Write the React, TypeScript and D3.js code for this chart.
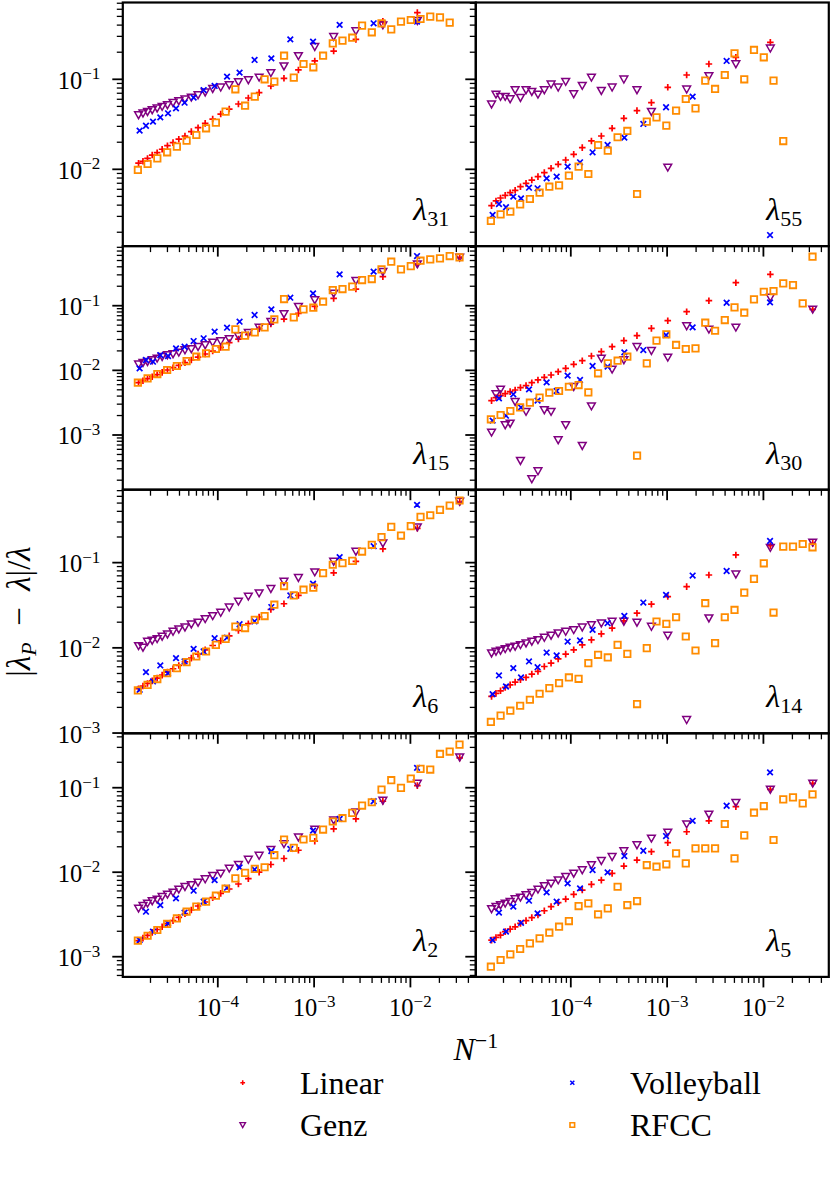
import React from 'react';
import * as d3 from 'd3';

// ---------- x grids (N^-1) ----------
const xLin = [1.503e-5, 1.671e-5, 1.862e-5, 2.084e-5, 2.344e-5, 2.642e-5, 3.0e-5, 3.428e-5, 3.936e-5, 4.56e-5, 5.309e-5, 6.237e-5, 7.396e-5, 8.85e-5, 1.072e-4, 1.315e-4, 1.637e-4, 2.075e-4, 2.685e-4, 3.556e-4, 4.864e-4, 6.87e-4, 1.016e-3, 1.596e-3, 2.716e-3, 5.176e-3, 1.18e-2, 3.25e-2];
const xVol = [1.542e-5, 1.795e-5, 2.123e-5, 2.529e-5, 3.041e-5, 3.681e-5, 4.519e-5, 5.61e-5, 7.129e-5, 9.268e-5, 1.247e-4, 1.683e-4, 2.41e-4, 3.597e-4, 5.662e-4, 9.75e-4, 1.841e-3, 4.15e-3, 1.172e-2];
const xRF = [1.479e-5, 1.866e-5, 2.355e-5, 2.979e-5, 3.758e-5, 4.742e-5, 5.984e-5, 7.551e-5, 9.55e-5, 1.205e-4, 1.521e-4, 1.919e-4, 2.421e-4, 3.062e-4, 3.864e-4, 4.875e-4, 6.152e-4, 7.762e-4, 9.817e-4, 1.239e-3, 1.563e-3, 1.972e-3, 2.489e-3, 3.148e-3, 3.972e-3, 5.012e-3, 6.324e-3, 7.98e-3, 1.009e-2, 1.274e-2, 1.607e-2, 2.028e-2, 2.559e-2, 3.236e-2];

// ---------- lambda_31 ----------
const lin31 = [0.0117, 0.0123, 0.0132, 0.0144, 0.0153, 0.0167, 0.0183, 0.0198, 0.0216, 0.0234, 0.0262, 0.029, 0.0324, 0.0362, 0.0411, 0.0467, 0.0532, 0.062, 0.0711, 0.0843, 0.1026, 0.127, 0.16, 0.206, 0.278, 0.44, 0.55];
const genz31 = [0.0401, 0.0419, 0.0437, 0.0456, 0.0477, 0.0497, 0.0518, 0.055, 0.0574, 0.06, 0.063, 0.067, 0.0718, 0.0787, 0.0815, 0.0865, 0.0933, 0.0982, 0.105, 0.118, 0.14, 0.182, 0.23, 0.297, 0.344, 0.4, 0.447];
const vol31 = [0.0269, 0.0305, 0.0339, 0.0378, 0.0419, 0.0476, 0.055, 0.0626, 0.076, 0.0844, 0.107, 0.1186, 0.164, 0.171, 0.278, 0.262, 0.402, 0.419, 0.437];
const rf31 = [0.00984, 0.01146, 0.01324, 0.01545, 0.01786, 0.02084, 0.02405, 0.02855, 0.03302, 0.04375, 0.07745, 0.0509, 0.0642, 0.1, 0.0942, 0.183, 0.1044, 0.148, 0.136, 0.183, 0.251, 0.269, 0.29, 0.395, 0.333, 0.419, 0.359, 0.437, 0.456, 0.468, 0.497, 0.488, 0.426];

// ---------- lambda_55 ----------
const lin55 = [0.00395, 0.00445, 0.0048, 0.00514, 0.0055, 0.00585, 0.00641, 0.00698, 0.0076, 0.0083, 0.00919, 0.01026, 0.01137, 0.0127, 0.01468, 0.01741, 0.02065, 0.02344, 0.02855, 0.0369, 0.0449, 0.0551, 0.0815, 0.1117, 0.148, 0.1755, 0.2577];
const genz55 = [0.0528, 0.0681, 0.0642, 0.0642, 0.0604, 0.0761, 0.0625, 0.0761, 0.0729, 0.0681, 0.0761, 0.088, 0.0815, 0.0942, 0.0687, 0.0851, 0.1052, 0.0748, 0.0815, 0.1, 0.0761, 0.0437, 0.01052, 0.0774, 0.1089, 0.148, 0.221];
const vol55 = [0.00311, 0.00412, 0.00379, 0.00497, 0.00476, 0.00625, 0.00615, 0.00794, 0.0083, 0.01071, 0.01197, 0.01545, 0.01862, 0.02248, 0.0319, 0.0489, 0.0642, 0.16, 0.00186];
const rf55 = [0.00267, 0.00316, 0.00339, 0.00408, 0.00468, 0.0055, 0.00641, 0.00664, 0.0085, 0.01071, 0.00887, 0.01862, 0.0161, 0.0227, 0.02667, 0.00532, 0.0339, 0.0378, 0.0306, 0.0449, 0.0604, 0.0476, 0.0967, 0.0781, 0.1117, 0.1945, 0.1, 0.212, 0.1755, 0.0967, 0.0206];

// ---------- lambda_15 ----------
const lin15 = [0.00644, 0.00692, 0.00743, 0.00798, 0.00857, 0.00931, 0.01012, 0.01099, 0.01194, 0.01314, 0.01445, 0.01607, 0.0179, 0.0199, 0.0227, 0.0268, 0.0305, 0.0356, 0.0441, 0.052, 0.0622, 0.076, 0.0977, 0.13, 0.181, 0.281, 0.44, 0.56];
const genz15 = [0.0124, 0.01314, 0.0136, 0.01445, 0.01534, 0.01627, 0.01726, 0.0179, 0.01899, 0.0206, 0.0214, 0.0232, 0.0247, 0.0271, 0.0284, 0.0305, 0.034, 0.0382, 0.0462, 0.0566, 0.0744, 0.0966, 0.1225, 0.155, 0.244, 0.336, 0.44, 0.56];
const vol15 = [0.01074, 0.01445, 0.0136, 0.01726, 0.01667, 0.0219, 0.0232, 0.0284, 0.0313, 0.0396, 0.0457, 0.0566, 0.0718, 0.0878, 0.133, 0.155, 0.305, 0.336, 0.586];
const rf15 = [0.00644, 0.00751, 0.00877, 0.01012, 0.01167, 0.01393, 0.01627, 0.01832, 0.0214, 0.0232, 0.0431, 0.0344, 0.0387, 0.0462, 0.0615, 0.1268, 0.0661, 0.0878, 0.0931, 0.1153, 0.1746, 0.181, 0.197, 0.2494, 0.2584, 0.365, 0.479, 0.365, 0.41, 0.497, 0.52, 0.539, 0.586, 0.559];

// ---------- lambda_30 ----------
const lin30 = [0.0034, 0.00378, 0.00406, 0.00436, 0.00468, 0.00497, 0.0054, 0.0058, 0.00644, 0.0071, 0.0078, 0.00848, 0.00953, 0.01074, 0.0124, 0.0141, 0.01667, 0.01945, 0.0232, 0.0288, 0.0344, 0.0446, 0.0586, 0.0807, 0.1194, 0.227, 0.305, 0.088];
const genz30 = [0.0011, 0.00431, 0.00508, 0.00143, 0.00151, 0.00327, 0.000401, 0.0023, 0.000209, 0.000277, 0.00244, 0.0023, 0.000837, 0.00143, 0.00558, 0.000684, 0.0028, 0.01534, 0.01036, 0.01445, 0.0232, 0.0201, 0.0159, 0.0485, 0.0431, 0.0462, 0.1345, 0.0878];
const vol30 = [0.00167, 0.00369, 0.00199, 0.00426, 0.00268, 0.00508, 0.0034, 0.00652, 0.00479, 0.00828, 0.0071, 0.01167, 0.0114, 0.019, 0.0206, 0.0351, 0.0462, 0.111, 0.1127];
const rf30 = [0.00175, 0.00204, 0.00235, 0.00268, 0.00316, 0.00378, 0.00451, 0.00479, 0.00558, 0.00593, 0.00457, 0.009, 0.01283, 0.0141, 0.01627, 0.000479, 0.01283, 0.0288, 0.036, 0.0247, 0.0214, 0.0219, 0.0546, 0.041, 0.06, 0.0942, 0.078, 0.1253, 0.1644, 0.1685, 0.2214, 0.2088, 0.1086, 0.573];

// ---------- lambda_6 ----------
const lin6 = [0.00331, 0.00356, 0.00382, 0.0041, 0.00441, 0.00479, 0.00519, 0.00568, 0.00621, 0.00686, 0.00757, 0.00843, 0.00948, 0.01065, 0.01208, 0.01383, 0.01597, 0.0192, 0.023, 0.0282, 0.0329, 0.0412, 0.054, 0.076, 0.1032, 0.145, 0.253, 0.512];
const genz6 = [0.01054, 0.01009, 0.01186, 0.01219, 0.01274, 0.01357, 0.01445, 0.01553, 0.01655, 0.01746, 0.01892, 0.01981, 0.02187, 0.02371, 0.02594, 0.02997, 0.0351, 0.0402, 0.0439, 0.0494, 0.0601, 0.0664, 0.0774, 0.1032, 0.135, 0.169, 0.261, 0.521];
const vol6 = [0.00322, 0.00519, 0.00403, 0.00621, 0.00505, 0.00757, 0.00692, 0.00973, 0.00906, 0.01297, 0.0132, 0.01892, 0.0205, 0.0301, 0.0412, 0.0565, 0.116, 0.156, 0.476];
const rf6 = [0.00316, 0.00368, 0.0043, 0.00505, 0.00578, 0.00679, 0.00791, 0.00906, 0.01084, 0.01274, 0.01778, 0.01706, 0.02137, 0.0236, 0.0321, 0.0531, 0.0412, 0.0481, 0.0508, 0.0753, 0.0944, 0.0987, 0.105, 0.135, 0.162, 0.199, 0.263, 0.208, 0.268, 0.344, 0.36, 0.416, 0.468, 0.536];

// ---------- lambda_14 ----------
const lin14 = [0.00269, 0.00292, 0.00313, 0.00343, 0.00368, 0.00396, 0.00422, 0.00449, 0.00491, 0.00528, 0.00604, 0.00661, 0.00743, 0.00843, 0.00948, 0.01084, 0.01241, 0.01459, 0.017, 0.0207, 0.0255, 0.0325, 0.04, 0.0523, 0.0716, 0.123, 0.158, 0.1685];
const genz14 = [0.00866, 0.00906, 0.00931, 0.00973, 0.01009, 0.01037, 0.01084, 0.01135, 0.01186, 0.01241, 0.0132, 0.01396, 0.01486, 0.01553, 0.01626, 0.01746, 0.01862, 0.01946, 0.02037, 0.02037, 0.01981, 0.01778, 0.01396, 0.00143, 0.0223, 0.073, 0.15, 0.173];
const vol14 = [0.00286, 0.00474, 0.00352, 0.00578, 0.00449, 0.00692, 0.00593, 0.00881, 0.00813, 0.01186, 0.01219, 0.01626, 0.01946, 0.0237, 0.034, 0.0418, 0.0705, 0.0798, 0.1795];
const rf14 = [0.00135, 0.0016, 0.00183, 0.00209, 0.00246, 0.00289, 0.00337, 0.00385, 0.00449, 0.00433, 0.00661, 0.00828, 0.00771, 0.01084, 0.0085, 0.00219, 0.00991, 0.02037, 0.0191, 0.02286, 0.01358, 0.00931, 0.0334, 0.01135, 0.02286, 0.02786, 0.0445, 0.0644, 0.0982, 0.02595, 0.154, 0.154, 0.1655, 0.1514];

// ---------- lambda_2 ----------
const lin2 = [0.00155, 0.00166, 0.00179, 0.00194, 0.0021, 0.00226, 0.00246, 0.00267, 0.00292, 0.00323, 0.00357, 0.00398, 0.00444, 0.00499, 0.00562, 0.00633, 0.00725, 0.0084, 0.01, 0.01233, 0.01452, 0.0182, 0.02327, 0.0326, 0.0428, 0.0692, 0.106, 0.2254];
const genz2 = [0.00373, 0.00402, 0.00428, 0.00456, 0.00477, 0.00513, 0.00547, 0.00577, 0.00626, 0.00673, 0.00705, 0.00758, 0.0083, 0.0091, 0.00969, 0.0111, 0.0123, 0.01412, 0.01574, 0.01853, 0.02163, 0.02594, 0.032, 0.0412, 0.0513, 0.0705, 0.112, 0.2296];
const vol2 = [0.00157, 0.00341, 0.00198, 0.00408, 0.00248, 0.0049, 0.00332, 0.00604, 0.00448, 0.00807, 0.00656, 0.0114, 0.01076, 0.01774, 0.0189, 0.0311, 0.0428, 0.0692, 0.1718];
const rf2 = [0.00155, 0.00177, 0.00207, 0.00244, 0.00284, 0.00341, 0.00391, 0.00448, 0.00527, 0.00638, 0.00845, 0.00982, 0.01094, 0.01145, 0.01589, 0.02437, 0.01941, 0.02437, 0.02546, 0.032, 0.0398, 0.0436, 0.0504, 0.0615, 0.0673, 0.0951, 0.1227, 0.0996, 0.1283, 0.167, 0.164, 0.251, 0.268, 0.324];

// ---------- lambda_5 ----------
const lin5 = [0.00157, 0.00169, 0.0018, 0.00198, 0.00212, 0.00226, 0.00248, 0.00267, 0.0029, 0.00311, 0.0035, 0.00391, 0.00436, 0.00481, 0.00547, 0.00615, 0.00718, 0.00807, 0.00968, 0.01183, 0.01393, 0.01748, 0.02234, 0.0301, 0.0406, 0.0596, 0.0955, 0.1125];
const genz5 = [0.00367, 0.00391, 0.00409, 0.00428, 0.00448, 0.00481, 0.00504, 0.00537, 0.00572, 0.00626, 0.00686, 0.00738, 0.00807, 0.00885, 0.00968, 0.01061, 0.01216, 0.01368, 0.01525, 0.01779, 0.02098, 0.02514, 0.0296, 0.0371, 0.0483, 0.0664, 0.0955, 0.1125];
const vol5 = [0.00157, 0.00332, 0.00198, 0.00391, 0.00252, 0.0046, 0.00326, 0.00577, 0.00448, 0.00738, 0.00644, 0.01061, 0.00996, 0.01553, 0.01795, 0.0268, 0.0406, 0.0612, 0.1517];
const rf5 = [0.000762, 0.000914, 0.001067, 0.001233, 0.001439, 0.001648, 0.001923, 0.002265, 0.002642, 0.003978, 0.004277, 0.003168, 0.003731, 0.006726, 0.004084, 0.004557, 0.01216, 0.01162, 0.0124, 0.0167, 0.01273, 0.01915, 0.01915, 0.01915, 0.0372, 0.01459, 0.02729, 0.0506, 0.0607, 0.02404, 0.0728, 0.0769, 0.0653, 0.0834];

const panelLabels = ['31', '55', '15', '30', '6', '14', '2', '5'];
const panelData = [
  [lin31, genz31, vol31, rf31],
  [lin55, genz55, vol55, rf55],
  [lin15, genz15, vol15, rf15],
  [lin30, genz30, vol30, rf30],
  [lin6, genz6, vol6, rf6],
  [lin14, genz14, vol14, rf14],
  [lin2, genz2, vol2, rf2],
  [lin5, genz5, vol5, rf5],
];
const seriesNames = ['Linear', 'Genz', 'Volleyball', 'RFCC'];
const seriesX = [xLin, xLin, xVol, xRF];

// ---------- layout ----------
const W = 830, H = 1187;
const LEFT = 122.8, PW = 353, TOP = 2.5, PH = 243.6;
const FONT = "'Liberation Serif', 'DejaVu Serif', serif";
const COLORS = ['#ff0000', '#800080', '#0000ff', '#ff8c00'];
const xDomainExp = [-4.9865, -1.321];
const rowDomainExp = [[-2.853, -0.1467], [-3.846, -0.0781], [-3.003, -0.144], [-3.239, -0.356]];

const xScale = d3.scaleLog().domain([10 ** xDomainExp[0], 10 ** xDomainExp[1]]).range([0, PW]);

function logTicks(lo: number, hi: number) {
  const major: { v: number; k: number }[] = [];
  const minor: number[] = [];
  for (let k = Math.floor(Math.log10(lo)) - 1; k <= Math.ceil(Math.log10(hi)); k++) {
    for (let m = 1; m <= 9; m++) {
      const v = m * Math.pow(10, k);
      if (v >= lo * 0.9995 && v <= hi * 1.0005) {
        if (m === 1) major.push({ v, k });
        else minor.push(v);
      }
    }
  }
  return { major, minor };
}

function markerPath(kind: number, pts: [number, number][], s = 1) {
  let d = '';
  for (const [x, y] of pts) {
    if (kind === 0) {
      const a = 3.3 * s;
      d += `M${x - a},${y}H${x + a}M${x},${y - a}V${y + a}`;
    } else if (kind === 1) {
      const w = 3.9 * s, t = 3.2 * s, b = 3.7 * s;
      d += `M${x - w},${y - t}L${x + w},${y - t}L${x},${y + b}Z`;
    } else if (kind === 2) {
      const a = 2.8 * s;
      d += `M${x - a},${y - a}L${x + a},${y + a}M${x - a},${y + a}L${x + a},${y - a}`;
    } else {
      const a = 3.2 * s;
      d += `M${x - a},${y - a}H${x + a}V${y + a}H${x - a}Z`;
    }
  }
  return d;
}

const strokeW = [1.7, 1.5, 1.7, 1.8];

function Sup({ x, y, base, exp, anchor, size, supSize, raise, italic }: any) {
  return (
    <text x={x} y={y} textAnchor={anchor} fontFamily={FONT} fontSize={size} fill="#000">
      <tspan fontStyle={italic ? 'italic' : 'normal'}>{base}</tspan>
      <tspan dy={-raise} fontSize={supSize}>{exp}</tspan>
    </text>
  );
}

function Panel({ idx }: { idx: number }) {
  const row = Math.floor(idx / 2), col = idx % 2;
  const x0 = LEFT + col * PW, y0 = TOP + row * PH;
  const [lo, hi] = rowDomainExp[row].map((e) => 10 ** e);
  const yScale = d3.scaleLog().domain([lo, hi]).range([PH, 0]);
  const yt = logTicks(lo, hi);
  const xt = logTicks(10 ** xDomainExp[0], 10 ** xDomainExp[1]);
  const clipId = `clip${idx}`;
  const data = panelData[idx];
  return (
    <g transform={`translate(${x0},${y0})`}>
      <defs>
        <clipPath id={clipId}>
          <rect x={0} y={0} width={PW} height={PH} />
        </clipPath>
      </defs>
      <g clipPath={`url(#${clipId})`}>
        {data.map((ys, s) => {
          const xs = seriesX[s];
          const pts: [number, number][] = ys.map((v, i) => [xScale(xs[i]), yScale(v)]);
          return (
            <path key={s} d={markerPath(s, pts)} fill="none" stroke={COLORS[s]}
              strokeWidth={strokeW[s]} strokeLinejoin="miter" />
          );
        })}
      </g>
      <rect x={0} y={0} width={PW} height={PH} fill="none" stroke="#000" strokeWidth={2.2} />
      {yt.major.map((t) => (
        <line key={'ym' + t.k} x1={0} x2={-10.5} y1={yScale(t.v)} y2={yScale(t.v)} stroke="#000" strokeWidth={1.8} />
      ))}
      {yt.minor.map((v, i) => (
        <line key={'yn' + i} x1={0} x2={-6} y1={yScale(v)} y2={yScale(v)} stroke="#000" strokeWidth={1.3} />
      ))}
      {xt.major.map((t) => (
        <line key={'xm' + t.k} x1={xScale(t.v)} x2={xScale(t.v)} y1={PH} y2={PH + 10.5} stroke="#000" strokeWidth={1.8} />
      ))}
      {xt.minor.map((v, i) => (
        <line key={'xn' + i} x1={xScale(v)} x2={xScale(v)} y1={PH} y2={PH + 6} stroke="#000" strokeWidth={1.3} />
      ))}
      {col === 0 && yt.major.map((t) => (
        <Sup key={'yl' + t.k} x={-22.5} y={yScale(t.v) + 9.5} base="10" exp={'\u2212' + -t.k}
          anchor="end" size={24.5} supSize={17} raise={9.5} />
      ))}
      {row === 3 && xt.major.map((t) => (
        <Sup key={'xl' + t.k} x={xScale(t.v)} y={PH + 39.6} base="10" exp={'\u2212' + -t.k}
          anchor="middle" size={24.5} supSize={17} raise={9.5} />
      ))}
      <text x={290.5} y={PH - 26} fontFamily={FONT} fontSize={32} fill="#000">
        <tspan fontStyle="italic">λ</tspan>
        <tspan dy={6} fontSize={22}>{panelLabels[idx]}</tspan>
      </text>
    </g>
  );
}

export default function App() {
  const legendPos = [
    [242.7, 1082.7, 300, 1094],
    [242.7, 1125, 300, 1136],
    [572.3, 1082.7, 630, 1094],
    [572.3, 1125, 630, 1136],
  ];
  return (
    <svg width={W} height={H} viewBox={`0 0 ${W} ${H}`}
      style={{ position: 'absolute', left: 0, top: 0, background: '#fff' }}>
      <rect x={0} y={0} width={W} height={H} fill="#fff" />
      {panelLabels.map((_, i) => <Panel key={i} idx={i} />)}
      {/* y label */}
      <text transform={`translate(30,${TOP + 2.5 * PH}) rotate(-90)`} textAnchor="middle"
        fontFamily={FONT} fontSize={33} fill="#000">
        <tspan>|</tspan>
        <tspan fontStyle="italic">λ</tspan>
        <tspan fontStyle="italic" fontSize={22} dy={6}>P</tspan>
        <tspan dy={-6}>{'\u2002\u2212\u2002'}</tspan>
        <tspan fontStyle="italic">λ</tspan>
        <tspan>|/</tspan>
        <tspan fontStyle="italic">λ</tspan>
      </text>
      {/* x label */}
      <Sup x={LEFT + PW} y={1060} base="N" exp={'\u22121'} anchor="middle" size={32} supSize={22} raise={12} italic />
      {/* legend */}
      {seriesNames.map((name, s) => {
        const [mx, my, tx, ty] = legendPos[s];
        return (
          <g key={name}>
            <path d={markerPath(s, [[mx, my]], 0.72)} fill="none" stroke={COLORS[s]} strokeWidth={strokeW[s] * 0.9} />
            <text x={tx} y={ty} fontFamily={FONT} fontSize={32} fill="#000">{name}</text>
          </g>
        );
      })}
    </svg>
  );
}
